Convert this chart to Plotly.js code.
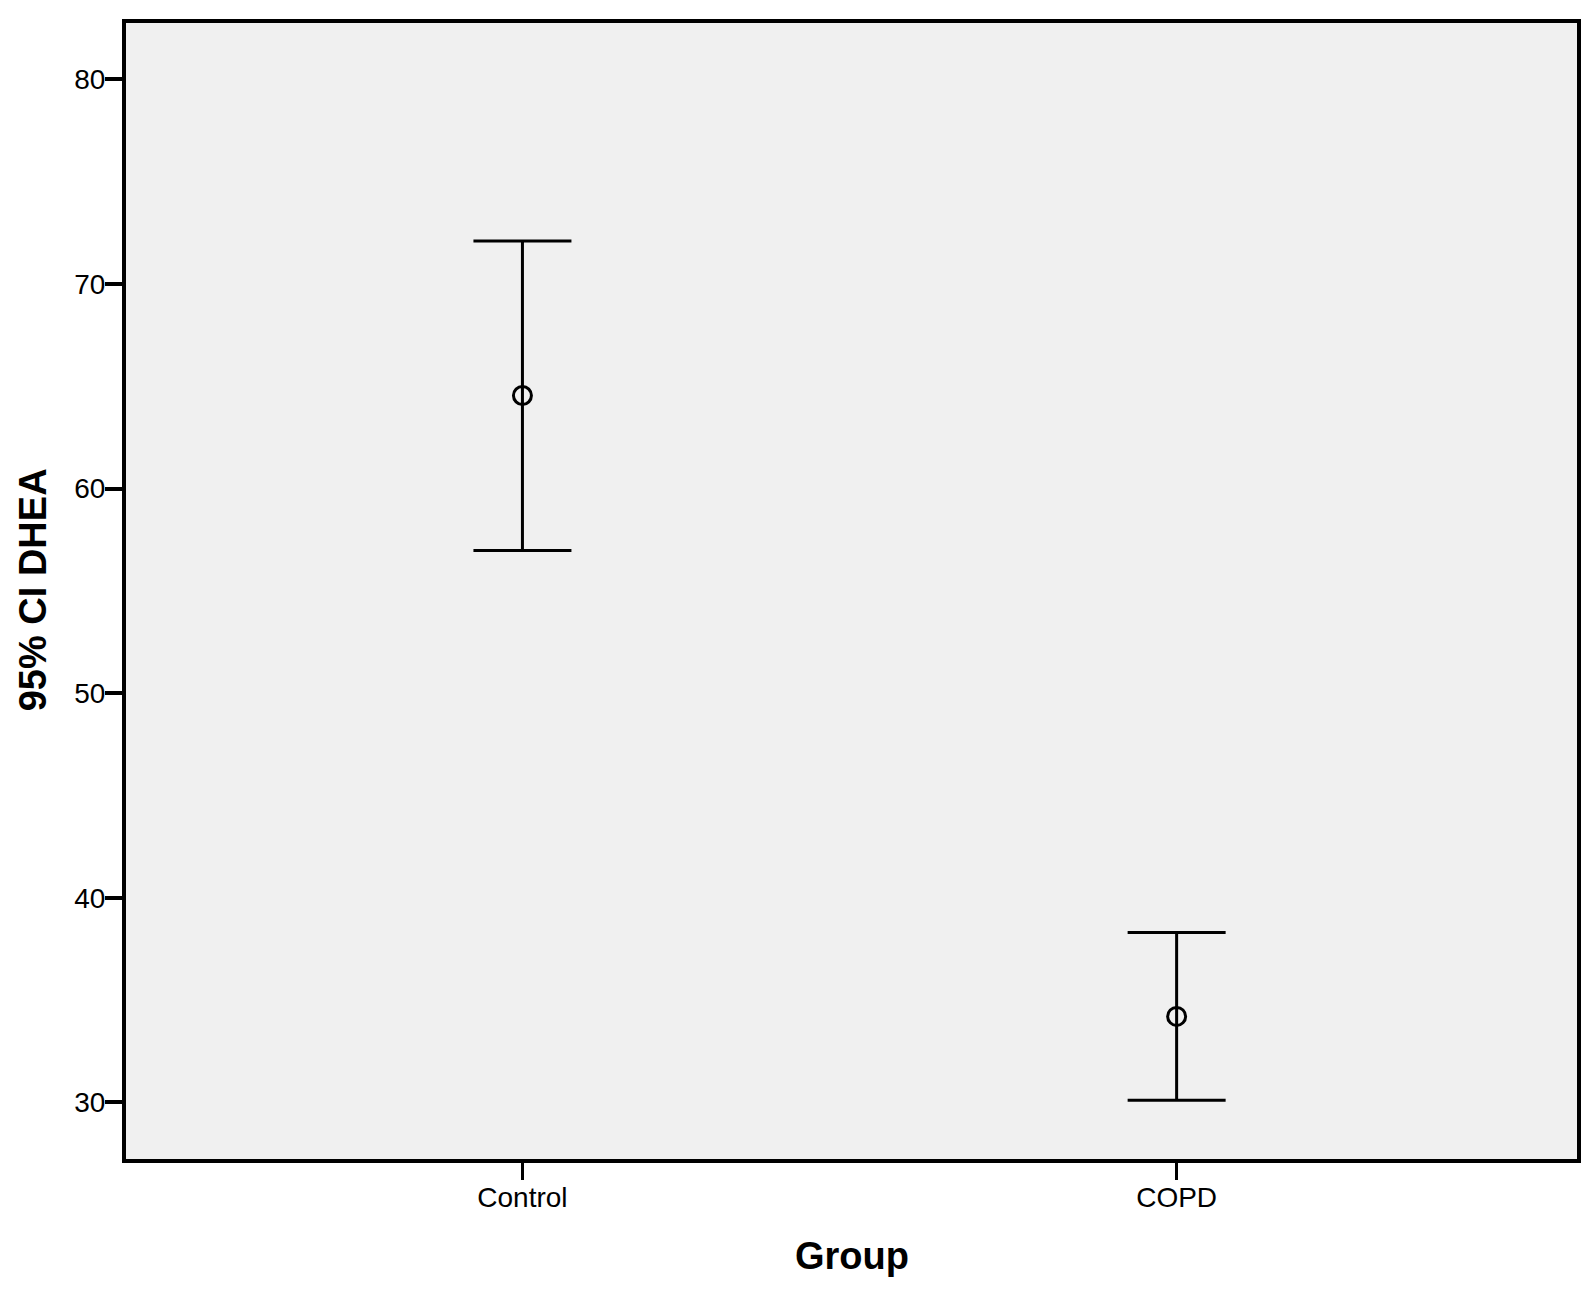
<!DOCTYPE html>
<html>
<head>
<meta charset="utf-8">
<script src="https://cdn.plot.ly/plotly-3.0.1.min.js"></script>
<style>html,body{margin:0;padding:0;background:#fff;}#chart{width:1595px;height:1291px;}</style>
</head>
<body>
<div id="chart"></div>
<script>
const groups = ["Control", "COPD"];
const means = [64.55, 34.2];
const upper = [72.1, 38.3];
const lower = [56.97, 30.1];
const yTicks = [30, 40, 50, 60, 70, 80];

const xIdx = groups.map((g, i) => i);
const errPlus = upper.map((u, i) => u - means[i]);
const errMinus = lower.map((l, i) => means[i] - l);

const font = "Arial, 'Liberation Sans', Helvetica, sans-serif";

const trace = {
  type: 'scatter',
  mode: 'markers',
  x: xIdx,
  y: means,
  marker: {symbol: 'circle-open', size: 18, color: '#000', line: {width: 3, color: '#000'}},
  error_y: {type: 'data', symmetric: false, array: errPlus, arrayminus: errMinus,
            color: '#000', thickness: 3, width: 49},
  hoverinfo: 'skip'
};

const layout = {
  width: 1595, height: 1291,
  margin: {l: 126, r: 18, t: 23, b: 132},
  paper_bgcolor: '#ffffff',
  plot_bgcolor: '#f0f0f0',
  showlegend: false,
  font: {family: font, color: '#000'},
  xaxis: {
    range: [-0.606, 1.612],
    tickvals: xIdx, ticktext: groups,
    ticks: 'outside', ticklen: 17, tickwidth: 3, tickcolor: '#000',
    ticklabelstandoff: -7,
    tickfont: {size: 28, family: font, color: '#000'},
    showline: true, linewidth: 4, linecolor: '#000', mirror: true,
    showgrid: false, zeroline: false
  },
  yaxis: {
    range: [27.23, 82.76],
    tickvals: yTicks, ticktext: yTicks.map(String),
    ticks: 'outside', ticklen: 17, tickwidth: 4, tickcolor: '#000',
    ticklabelstandoff: -6,
    tickfont: {size: 28, family: font, color: '#000'},
    showline: true, linewidth: 4, linecolor: '#000', mirror: true,
    showgrid: false, zeroline: false
  },
  annotations: [
    {text: '<b>95% CI DHEA</b>', xref: 'paper', yref: 'paper', x: -0.0645, y: 0.501,
     xanchor: 'center', yanchor: 'middle', textangle: -90, showarrow: false,
     font: {size: 38, family: font, color: '#000'}},
    {text: '<b>Group</b>', xref: 'paper', yref: 'paper', x: 0.5, y: -0.0853,
     xanchor: 'center', yanchor: 'middle', showarrow: false,
     font: {size: 38, family: font, color: '#000'}}
  ]
};

Plotly.newPlot('chart', [trace], layout, {displayModeBar: false, staticPlot: true});
</script>
</body>
</html>
